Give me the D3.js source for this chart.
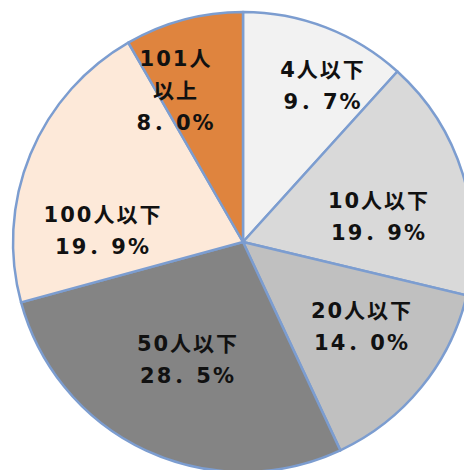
<!DOCTYPE html>
<html>
<head>
<meta charset="utf-8">
<script src="https://cdn.jsdelivr.net/npm/d3@7"></script>
<style>
html,body{margin:0;padding:0;background:#fff;}
svg{display:block;}
text{font-family:"DejaVu Sans","Noto Sans CJK JP",sans-serif;font-weight:700;fill:#111;}
</style>
</head>
<body>
<svg id="chart" width="464" height="470"></svg>
<script>
// categories (label lines as shown)
const categories = ["4人以下", "10人以下", "20人以下", "50人以下", "100人以下", "101人以上"];
const categoryLines = [["4人以下"], ["10人以下"], ["20人以下"], ["50人以下"], ["100人以下"], ["101人", "以上"]];
// percentage labels as printed
const percentLabels = ["9．7%", "19．9%", "14．0%", "28．5%", "19．9%", "8．0%"];
// wedge sizes as drawn in the picture (percent of the circle)
const sliceShares = [11.7, 17.0, 14.3, 27.7, 20.9, 8.3];
const colors = ["#f2f2f2", "#d9d9d9", "#c0c0c0", "#848484", "#fde9d9", "#df843e"];

const cx = 243, cy = 242, R = 230;
// label anchor offsets from the centre (layout only)
const labelOffsets = [[79, -172], [135, -41], [118, 69], [-56, 102], [-141, -27], [-68, -183]];
const lineGap = 32;
const spacing = 2;

const svg = d3.select("#chart");
const g = svg.append("g").attr("transform", `translate(${cx},${cy})`);

const pie = d3.pie().sort(null).value(d => d)(sliceShares);
const arc = d3.arc().innerRadius(0).outerRadius(R);

g.selectAll("path.slice").data(pie).join("path")
  .attr("class", "slice")
  .attr("d", arc)
  .attr("fill", (d, i) => colors[i])
  .attr("stroke", "#7c9dd0")
  .attr("stroke-width", 2.5)
  .attr("stroke-linejoin", "round");

const labels = g.selectAll("g.lab").data(pie).join("g")
  .attr("class", "lab")
  .attr("transform", (d, i) => `translate(${labelOffsets[i][0]},${labelOffsets[i][1]})`);

labels.each(function(d, i) {
  const sel = d3.select(this);
  const lines = categoryLines[i].concat([percentLabels[i]]);
  lines.forEach((t, k) => {
    sel.append("text")
      .attr("x", spacing / 2)
      .attr("y", k * lineGap)
      .attr("text-anchor", "middle")
      .attr("dominant-baseline", "central")
      .attr("font-size", 21)
      .attr("letter-spacing", spacing)
      .text(t);
  });
});
</script>
</body>
</html>
